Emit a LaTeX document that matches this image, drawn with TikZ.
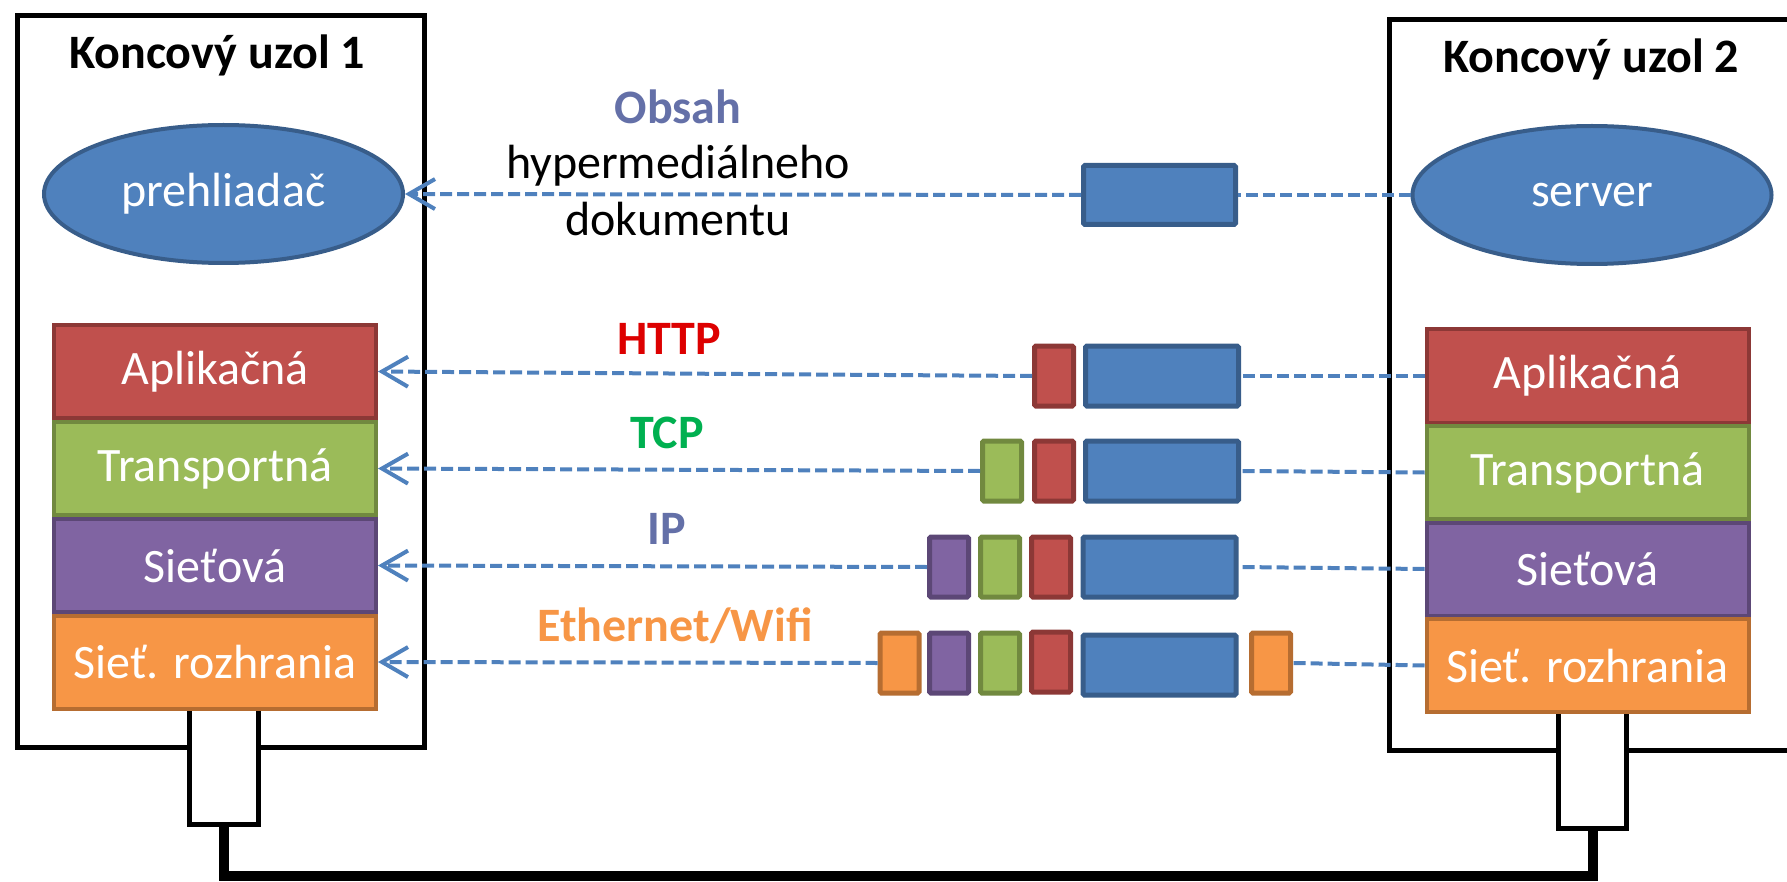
\documentclass[tikz,border=0pt]{standalone}
\usepackage{fontspec}
\setmainfont{Carlito}
\usetikzlibrary{arrows.meta,shapes.geometric}
\definecolor{bluef}{HTML}{4F81BD}
\definecolor{blued}{HTML}{385D8A}
\definecolor{redf}{HTML}{C0504D}
\definecolor{redd}{HTML}{8C3836}
\definecolor{greenf}{HTML}{9BBB59}
\definecolor{greend}{HTML}{71893F}
\definecolor{purplef}{HTML}{8064A2}
\definecolor{purpled}{HTML}{5C4776}
\definecolor{orangef}{HTML}{F79646}
\definecolor{oranged}{HTML}{B66D31}
\definecolor{httpc}{HTML}{DD0000}
\definecolor{tcpc}{HTML}{00B050}
\definecolor{ipc}{HTML}{6470A8}
\begin{document}
\begin{tikzpicture}[x=1pt,y=-1pt,
  big46/.style={font=\fontsize{48}{57}\selectfont},
  hostbox/.style={draw=black, line width=5pt, anchor=north west, inner sep=0pt},
  stubbox/.style={draw=black, fill=white, line width=5pt, minimum width=69pt, minimum height=120pt, anchor=south, inner sep=0pt},
  cable/.style={line width=10pt, line join=miter},
  layerbox/.style={line width=4pt, minimum width=322pt, minimum height=93pt, inner sep=0pt, text=white, big46},
  appl/.style={layerbox, fill=redf, draw=redd},
  trans/.style={layerbox, fill=greenf, draw=greend},
  netw/.style={layerbox, fill=purplef, draw=purpled},
  link/.style={layerbox, fill=orangef, draw=oranged},
  appnode/.style={ellipse, fill=bluef, draw=blued, line width=4pt, minimum width=359pt, minimum height=138pt, inner sep=0pt, text=white, big46},
  pkt/.style={line width=5pt, rounded corners=1.5pt, minimum height=60pt, inner sep=0pt},
  pdata/.style={pkt, fill=bluef, draw=blued, minimum width=153pt},
  phttp/.style={pkt, fill=redf, draw=redd, minimum width=39pt},
  ptcp/.style={pkt, fill=greenf, draw=greend, minimum width=39pt},
  pip/.style={pkt, fill=purplef, draw=purpled, minimum width=39pt},
  peth/.style={pkt, fill=orangef, draw=oranged, minimum width=39pt},
  dashline/.style={draw=bluef, line width=4pt, dash pattern=on 12pt off 5pt},
  arr/.style={-{Straight Barb[length=26pt,width=30pt,line width=4pt]}},
  proto/.style={font=\fontsize{48}{57}\selectfont\bfseries, anchor=base}
]
\useasboundingbox (0,0) rectangle (1787,882);
\clip (0,0) rectangle (1787,882);

% host boxes
\node[hostbox, minimum width=407pt, minimum height=732pt] (host1) at (15,13) {};
\node[hostbox, minimum width=430pt, minimum height=731pt] (host2) at (1387,17) {};

% stubs
\node[stubbox] (stub1) at (224,826.5) {};
\node[stubbox, minimum width=68pt] (stub2) at (1592.5,830.5) {};
\draw[cable] (stub1.south) -- ++(0,49.5) -| (stub2.south);

% titles
\node[proto] (t1) at (217,69) {Koncový uzol 1};
\node[proto] (t2) at (1591,73) {Koncový uzol 2};

% applications
\node[appnode] (browser) at (223.5,194) {prehliadač};
\node[appnode] (server) at (1592,195) {server};

% left layers
\node[appl]  (L1) at (215,371.5) {Aplikačná};
\node[trans] (L2) at (215,468.5) {Transportná};
\node[netw]  (L3) at (215,565.5) {Sieťová};
\node[link]  (L4) at (215,662) {Sieť. rozhrania};

% right layers
\node[appl]  (R1) at (1587.5,376) {Aplikačná};
\node[trans] (R2) at (1587.5,472.5) {Transportná};
\node[netw]  (R3) at (1587.5,569) {Sieťová};
\node[link]  (R4) at (1587.5,665.5) {Sieť. rozhrania};

% middle labels
\node[proto, text=ipc] (obsah) at (678,124) {Obsah};
\node[big46, anchor=base] (hyper) at (678,179) {hypermediálneho};
\node[big46, anchor=base] (dok) at (678,236) {dokumentu};
\node[proto, text=httpc] (lhttp) at (669,354) {HTTP};
\node[proto, text=tcpc] (ltcp) at (667,448) {TCP};
\node[proto, text=ipc] (lip) at (667,544) {IP};
\node[proto, text=orangef] (leth) at (675,641) {Ethernet/Wifi};

% packets
\node[pdata, minimum width=152pt, minimum height=59pt] (p0) at (1159.5,195) {};

\node[phttp] (a1) at (1054,376) {};
\node[pdata] (a2) at (1162,376) {};

\node[ptcp]  (b1) at (1002,471) {};
\node[phttp] (b2) at (1054,471) {};
\node[pdata] (b3) at (1162,471) {};

\node[pip]   (c1) at (949,567) {};
\node[ptcp]  (c2) at (1000,567) {};
\node[phttp] (c3) at (1051,567) {};
\node[pdata] (c4) at (1159.5,567) {};

\node[peth]  (d1) at (899.5,663) {};
\node[pip]   (d2) at (949,663) {};
\node[ptcp]  (d3) at (1000,663) {};
\node[phttp] (d4) at (1051,662) {};
\node[pdata] (d5) at (1159.5,665) {};
\node[peth]  (d6) at (1271,663) {};

% connectors
\draw[dashline, arr] (p0.west) -- (browser.east);
\draw[dashline] (server.west) -- (p0.east);
\draw[dashline, arr] (a1.west) -- (L1.east);
\draw[dashline] (R1.west) -- (a2.east);
\draw[dashline, arr] (b1.west) -- (L2.east);
\draw[dashline] (R2.west) -- (b3.east);
\draw[dashline, arr] (c1.west) -- (L3.east);
\draw[dashline] (R3.west) -- (c4.east);
\draw[dashline, arr] (d1.west) -- (L4.east);
\draw[dashline] (R4.west) -- (d6.east);
\end{tikzpicture}
\end{document}
